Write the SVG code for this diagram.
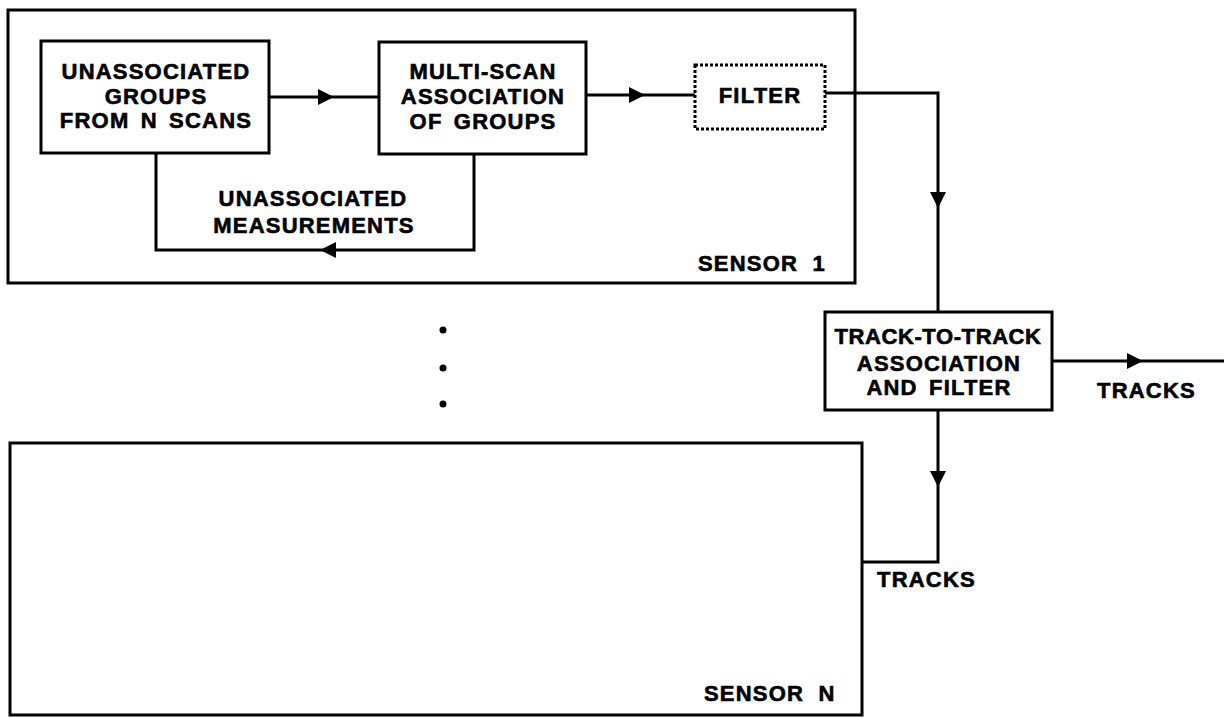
<svg xmlns="http://www.w3.org/2000/svg" xmlns:xlink="http://www.w3.org/1999/xlink" width="1224" height="718" viewBox="0 0 1224 718">
<style>
  .box { fill: none; stroke: #000; stroke-width: 3; }
  .dash { fill: none; stroke: #000; stroke-width: 3; stroke-dasharray: 3 2; }
  .line { fill: none; stroke: #000; stroke-width: 3; stroke-linejoin: miter; }
  .t { font-family: "Liberation Sans", Arial, sans-serif; font-weight: bold; font-size: 22px; letter-spacing: 1.2px; word-spacing: 4px; fill: #000; stroke: #000; stroke-width: 0.6px; text-anchor: middle; }
  .ts { font-family: "Liberation Sans", Arial, sans-serif; font-weight: bold; font-size: 22px; letter-spacing: 1.2px; word-spacing: 7px; fill: #000; stroke: #000; stroke-width: 0.6px; text-anchor: start; }
  .tight { letter-spacing: 0.6px; }
</style>
<defs>
  <path id="ah" d="M0,0 L-16,-8 L-16,8 Z" fill="#000"/>
</defs>
<rect width="1224" height="718" fill="#fff"/>

<g id="sensor1">
  <rect class="box" x="8" y="10" width="847" height="273"/>
  <text class="ts" x="698" y="271">SENSOR 1</text>
</g>
<g id="sensorN">
  <rect class="box" x="10" y="443" width="852" height="272"/>
  <text class="ts" x="704" y="701">SENSOR N</text>
</g>
<g id="groups">
  <rect class="box" x="41" y="41" width="228" height="112"/>
  <text class="t" x="156" y="79">UNASSOCIATED</text>
  <text class="t" x="156" y="104">GROUPS</text>
  <text class="t" x="156" y="128">FROM N SCANS</text>
</g>
<g id="multiscan">
  <rect class="box" x="379" y="42" width="207" height="112"/>
  <text class="t" x="483" y="79">MULTI-SCAN</text>
  <text class="t" x="483" y="104">ASSOCIATION</text>
  <text class="t" x="483" y="129">OF GROUPS</text>
</g>
<g id="filter">
  <rect class="dash" x="695" y="65" width="130" height="64"/>
  <text class="t" x="760" y="103">FILTER</text>
</g>
<g id="track">
  <rect class="box" x="825" y="312" width="227" height="98"/>
  <text class="t tight" x="938" y="344">TRACK-TO-TRACK</text>
  <text class="t" x="939" y="371">ASSOCIATION</text>
  <text class="t" x="939" y="395">AND FILTER</text>
</g>
<g id="dots" fill="#000">
  <circle cx="443" cy="330" r="3.5"/>
  <circle cx="443" cy="368" r="3.5"/>
  <circle cx="443" cy="404" r="3.5"/>
</g>

<g id="connectors">
  <path class="line" d="M269,97 L379,97"/>
  <use xlink:href="#ah" transform="translate(334,97)"/>
  <path class="line" d="M586,95 L695,95"/>
  <use xlink:href="#ah" transform="translate(645,95)"/>
  <path class="line" d="M474,154 L474,250 L156,250 L156,153"/>
  <use xlink:href="#ah" transform="translate(320,250) rotate(180)"/>
  <path class="line" d="M825,93 L938,93 L938,312"/>
  <use xlink:href="#ah" transform="translate(938,208) rotate(90)"/>
  <path class="line" d="M1052,361 L1224,361"/>
  <use xlink:href="#ah" transform="translate(1143,361)"/>
  <path class="line" d="M938,410 L938,562 L862,562"/>
  <use xlink:href="#ah" transform="translate(938,487) rotate(90)"/>
  <text class="t" x="313" y="206">UNASSOCIATED</text>
  <text class="t" x="314" y="233">MEASUREMENTS</text>
  <text class="ts" x="1097" y="398">TRACKS</text>
  <text class="ts" x="877" y="587">TRACKS</text>
</g>
</svg>
